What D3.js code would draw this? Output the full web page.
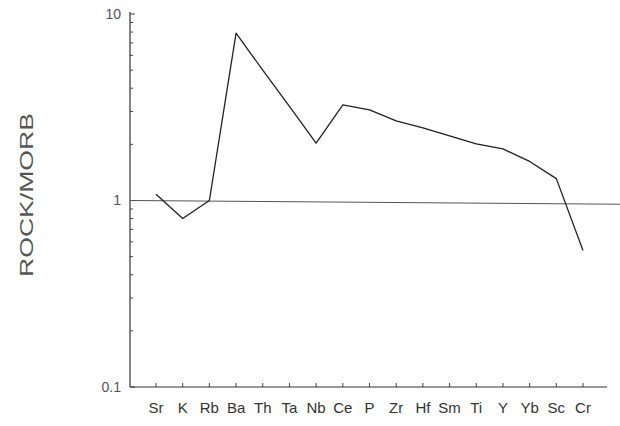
<!DOCTYPE html>
<html>
<head>
<meta charset="utf-8">
<script src="https://cdn.jsdelivr.net/npm/d3@7"></script>
<style>
  body { margin: 0; background: #fff; }
  text { font-family: "Liberation Sans", Arial, sans-serif; fill: #333; }
</style>
</head>
<body>
<svg id="chart" width="620" height="426"></svg>
<script>
// elements along the bottom
var elements = ["Sr", "K", "Rb", "Ba", "Th", "Ta", "Nb", "Ce", "P", "Zr", "Hf", "Sm", "Ti", "Y", "Yb", "Sc", "Cr"];
// rock / MORB ratios
var ratios = [1.08, 0.80, 1.0, 7.9, 5.0, 3.2, 2.03, 3.26, 3.06, 2.67, 2.45, 2.22, 2.01, 1.89, 1.62, 1.31, 0.54];
var yTicks = [0.1, 1, 10];
var yTickLabels = ["0.1", "1", "10"];
// reference line at rock = MORB (the scan tilts it a little)
var refLine = [1, 0.955];

var svg = d3.select("#chart");
var plotL = 130, plotR = 607, plotT = 14, plotB = 387;

var x = d3.scalePoint()
    .domain(elements)
    .range([156, 583]);

var y = d3.scaleLog()
    .domain([0.1, 10])
    .range([plotB, plotT]);

// y axis line + ticks (ticks point into the plot)
svg.append("line")
    .attr("x1", plotL).attr("x2", plotL)
    .attr("y1", plotT - 2).attr("y2", plotB)
    .attr("stroke", "#333").attr("stroke-width", 1.2);

var minor = y.ticks().filter(function(d) { return yTicks.indexOf(d) < 0; });
svg.selectAll(".ytick")
    .data(minor)
    .enter().append("line")
    .attr("x1", plotL).attr("x2", plotL + 3)
    .attr("y1", function(d) { return y(d); })
    .attr("y2", function(d) { return y(d); })
    .attr("stroke", "#444");

svg.selectAll(".ymajor")
    .data(yTicks)
    .enter().append("line")
    .attr("x1", plotL).attr("x2", plotL + 5)
    .attr("y1", function(d) { return y(d); })
    .attr("y2", function(d) { return y(d); })
    .attr("stroke", "#444");

svg.selectAll(".ylab")
    .data(yTicks)
    .enter().append("text")
    .attr("x", 121)
    .attr("y", function(d) { return y(d); })
    .attr("dy", "0.35em")
    .attr("text-anchor", "end")
    .style("font-size", "14px")
    .style("fill", "#555")
    .text(function(d, i) { return yTickLabels[i]; });

svg.append("text")
    .attr("transform", "translate(33,195) rotate(-90)")
    .attr("text-anchor", "middle")
    .attr("textLength", 164)
    .attr("lengthAdjust", "spacingAndGlyphs")
    .style("font-size", "18px")
    .style("fill", "#555")
    .style("font-weight", "300")
    .text("ROCK/MORB");

// x axis
svg.append("line")
    .attr("x1", plotL).attr("x2", plotR)
    .attr("y1", plotB).attr("y2", plotB)
    .attr("stroke", "#333").attr("stroke-width", 1.2);

svg.selectAll(".xtick")
    .data(elements)
    .enter().append("line")
    .attr("x1", function(d) { return x(d); })
    .attr("x2", function(d) { return x(d); })
    .attr("y1", plotB).attr("y2", plotB - 4)
    .attr("stroke", "#444");

svg.selectAll(".xlab")
    .data(elements)
    .enter().append("text")
    .attr("x", function(d) { return x(d); })
    .attr("y", 413)
    .attr("text-anchor", "middle")
    .style("font-size", "15px")
    .style("fill", "#333")
    .text(function(d) { return d; });

// reference line
svg.append("line")
    .attr("x1", plotL).attr("x2", 620)
    .attr("y1", y(refLine[0])).attr("y2", y(refLine[1]))
    .attr("stroke", "#555").attr("stroke-width", 1);

// pattern
var line = d3.line()
    .x(function(d, i) { return x(elements[i]); })
    .y(function(d) { return y(d); });

svg.append("path")
    .datum(ratios)
    .attr("d", line)
    .attr("fill", "none")
    .attr("stroke", "#222")
    .attr("stroke-width", 1.3)
    .attr("stroke-linejoin", "round");
</script>
</body>
</html>
